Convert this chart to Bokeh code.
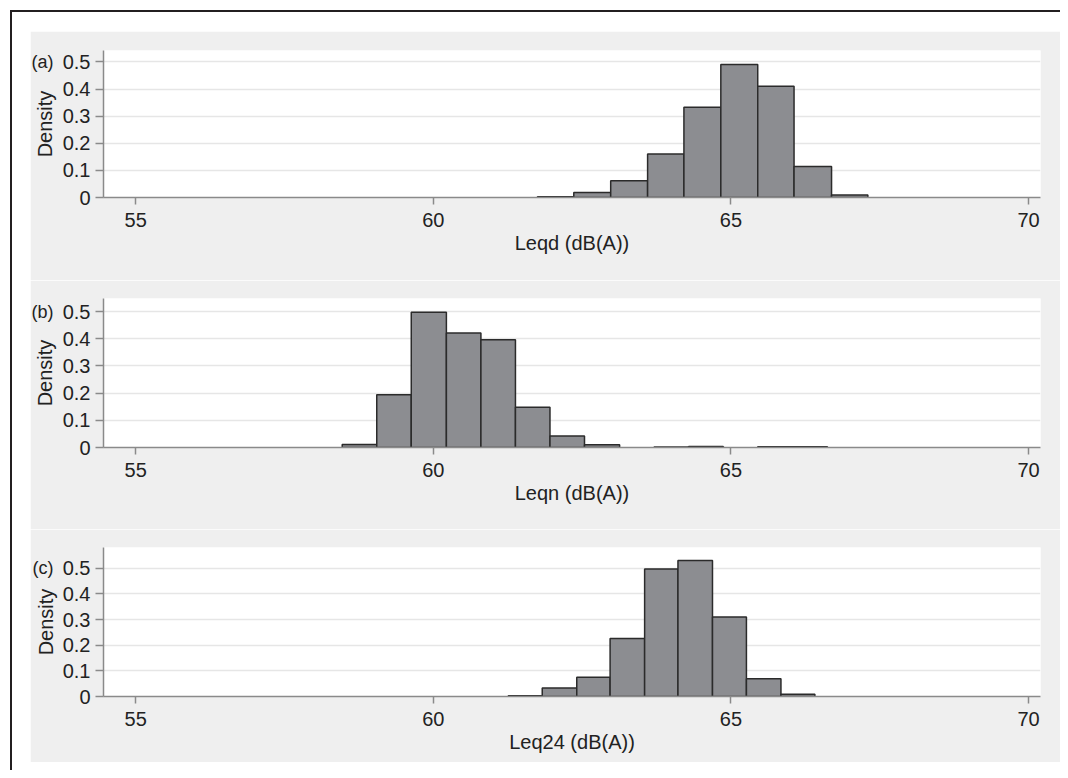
from bokeh.plotting import figure
from bokeh.layouts import column
from bokeh.models import Range1d, FixedTicker, LinearAxis, ColumnDataSource
from bokeh.embed import file_html
from bokeh.resources import INLINE

# ---------------- data ----------------
x_ticks = [55, 60, 65, 70]
y_ticks = [0, 0.1, 0.2, 0.3, 0.4, 0.5]
y_tick_labels = ["0", "0.1", "0.2", "0.3", "0.4", "0.5"]

panel_tags = ["(a)", "(b)", "(c)"]
x_titles = ["Leqd (dB(A))", "Leqn (dB(A))", "Leq24 (dB(A))"]
y_title = "Density"

leqd_edges = [61.75, 62.36, 62.98, 63.60, 64.21, 64.83, 65.45, 66.06, 66.69, 67.30]
leqd_density = [0.003, 0.018, 0.062, 0.160, 0.333, 0.490, 0.410, 0.114, 0.009]

leqn_edges = [58.47, 59.05, 59.63, 60.22, 60.80, 61.38, 61.96, 62.54, 63.13,
              63.71, 64.29, 64.87, 65.45, 66.04, 66.62]
leqn_density = [0.011, 0.194, 0.497, 0.421, 0.396, 0.148, 0.042, 0.010, 0.0,
                0.002, 0.004, 0.0, 0.003, 0.003]

leq24_edges = [61.26, 61.83, 62.41, 62.97, 63.55, 64.11, 64.69, 65.26, 65.84, 66.41]
leq24_density = [0.003, 0.033, 0.075, 0.226, 0.497, 0.530, 0.310, 0.069, 0.009]

x_span = (54.46, 70.2)
y_tops = [0.542, 0.548, 0.581]

# ---------------- style ----------------
FONT = "Liberation Sans"
TXT = "#222222"
AX = "#8a8a8a"
BG = "#efefef"
BAR_FILL = "#8c8d91"
BAR_LINE = "#2b2b2b"
FS = "20px"

heights = [249, 249, 233]
tops = [19, 18, 18]
bottoms = [83, 82, 66]

series = [(leqd_edges, leqd_density), (leqn_edges, leqn_density), (leq24_edges, leq24_density)]


def style_text(ax):
    ax.major_label_text_font = FONT
    ax.major_label_text_font_size = FS
    ax.major_label_text_color = TXT
    ax.axis_label_text_font = FONT
    ax.axis_label_text_font_size = FS
    ax.axis_label_text_font_style = "normal"
    ax.axis_label_text_color = TXT


figs = []
for i, (edges, dens) in enumerate(series):
    p = figure(width=1030, height=heights[i], output_backend="svg", toolbar_location=None,
               x_range=Range1d(*x_span), y_range=Range1d(0, y_tops[i]),
               min_border_left=73, min_border_right=20,
               min_border_top=tops[i], min_border_bottom=bottoms[i])
    p.background_fill_color = "white"
    p.border_fill_color = BG
    p.outline_line_color = None

    left, right, top = [], [], []
    for k, d in enumerate(dens):
        if d > 0:
            left.append(edges[k]); right.append(edges[k + 1]); top.append(d)
    src = ColumnDataSource(dict(left=left, right=right, top=top, bottom=[0] * len(top)))
    p.quad(left="left", right="right", top="top", bottom="bottom", source=src,
           fill_color=BAR_FILL, line_color=BAR_LINE, line_width=1.5)

    p.xgrid.visible = False
    p.ygrid.ticker = FixedTicker(ticks=y_ticks[1:])
    p.ygrid.grid_line_color = "#e6e6e6"
    p.ygrid.grid_line_width = 1.5

    xa = p.xaxis[0]
    xa.ticker = FixedTicker(ticks=x_ticks)
    xa.axis_label = x_titles[i]
    ya = p.yaxis[0]
    ya.ticker = FixedTicker(ticks=y_ticks)
    ya.major_label_overrides = {t: s for t, s in zip(y_ticks, y_tick_labels)}

    for ax in (xa, ya):
        ax.axis_line_color = AX
        ax.axis_line_width = 1.5
        ax.major_tick_line_color = AX
        ax.major_tick_line_width = 1.5
        ax.major_tick_in = 0
        ax.minor_tick_line_color = None
        style_text(ax)
    xa.major_tick_out = 7
    xa.major_label_standoff = 8
    xa.axis_label_standoff = 2
    ya.major_tick_out = 8
    ya.major_label_standoff = 5

    # outer left axis carrying the panel tag and the "Density" title
    tag_axis = LinearAxis(ticker=FixedTicker(ticks=[0.5]),
                          major_label_overrides={0.5: panel_tags[i]},
                          axis_label=y_title)
    style_text(tag_axis)
    tag_axis.major_label_text_font_size = "18px"
    tag_axis.axis_line_color = None
    tag_axis.major_tick_line_color = None
    tag_axis.minor_tick_line_color = None
    tag_axis.major_tick_out = 0
    tag_axis.major_tick_in = 0
    tag_axis.major_label_standoff = 6
    tag_axis.axis_label_standoff = -27
    p.add_layout(tag_axis, "left")
    figs.append(p)

inner = column(*figs, margin=(19, 0, 8, 18), spacing=0)
outer = column(inner, margin=(10, 0, 0, 10),
               styles={"border-left": "2px solid #231f20", "border-top": "2px solid #231f20"})

open("out.html", "w").write(file_html(outer, INLINE))
